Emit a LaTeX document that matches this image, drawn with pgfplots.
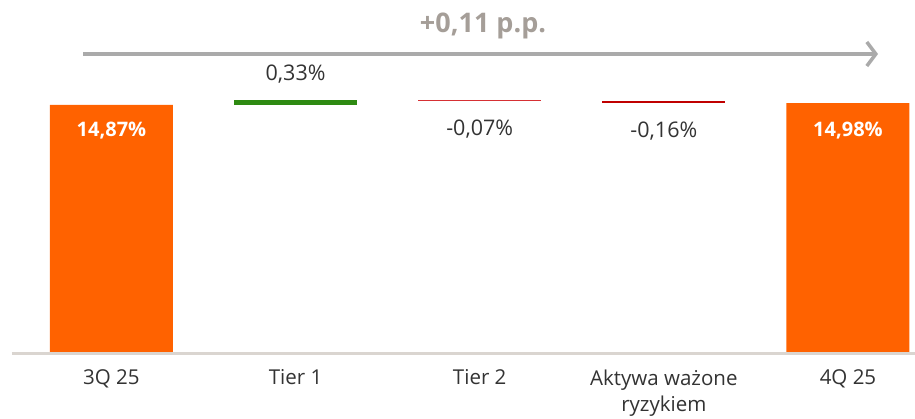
\documentclass[border=0pt]{standalone}
\usepackage{pgfplots}
\pgfplotsset{compat=1.18}
\usepackage{fontspec}
\setmainfont{Open Sans}
\usetikzlibrary{arrows.meta}
\definecolor{ingorange}{RGB}{255,98,0}
\definecolor{ingreen}{RGB}{46,138,18}
\definecolor{inred}{RGB}{214,48,52}
\definecolor{indarkred}{RGB}{192,0,0}
\definecolor{txt}{RGB}{51,51,51}
\definecolor{titlegray}{RGB}{165,158,152}
\definecolor{arrowgray}{RGB}{170,170,170}
\definecolor{basegray}{RGB}{218,213,208}
\begin{document}
\begin{tikzpicture}
\useasboundingbox (-12pt,-66pt) rectangle (903pt,352pt);
\begin{axis}[
  at={(0,0)}, anchor=south west,
  scale only axis, width=903pt, height=352pt,
  xmin=-0.54, xmax=4.364, ymin=0, ymax=21.19,
  ybar stacked, bar width=0.668,
  axis line style={draw=none},
  major tick length=0pt,
  ytick=\empty,
  xtick={0,1,2,3,4},
  xticklabels={3Q 25, Tier 1, Tier 2, {Aktywa ważone\\ryzykiem}, 4Q 25},
  xticklabel style={align=center, font=\fontsize{20.5}{26}\selectfont, text=txt, anchor=north, yshift=-14pt},
  clip=false,
]
\addplot[draw=none, fill=none] coordinates {(0,0) (1,14.87) (2,15.13) (3,14.97) (4,0)};
\addplot[draw=none, fill=ingorange] coordinates {(0,14.87) (1,0) (2,0) (3,0) (4,14.98)};
\addplot[draw=none, fill=ingreen] coordinates {(0,0) (1,0.33) (2,0) (3,0) (4,0)};
\addplot[draw=none, fill=inred] coordinates {(0,0) (1,0) (2,0.07) (3,0) (4,0)};
\addplot[draw=none, fill=indarkred] coordinates {(0,0) (1,0) (2,0) (3,0.16) (4,0)};
\coordinate (l0) at (axis cs:0,14.87);
\coordinate (l4) at (axis cs:4,14.98);
\coordinate (l1) at (axis cs:1,15.20);
\coordinate (l2) at (axis cs:2,15.13);
\coordinate (l3) at (axis cs:3,14.97);
\end{axis}
\node[text=white, font=\fontsize{20}{24}\selectfont\bfseries, yshift=-26pt] at (l0) {14,87\%};
\node[text=white, font=\fontsize{20}{24}\selectfont\bfseries, yshift=-27pt] at (l4) {14,98\%};
\node[text=txt, font=\fontsize{21.5}{24}\selectfont, yshift=25pt] at (l1) {0,33\%};
\node[text=txt, font=\fontsize{21.5}{24}\selectfont, yshift=-28pt] at (l2) {-0,07\%};
\node[text=txt, font=\fontsize{21.5}{24}\selectfont, yshift=-28pt] at (l3) {-0,16\%};
\draw[basegray, line width=3pt] (0pt,-1.5pt) -- (903pt,-1.5pt);
\draw[arrowgray, line width=3.5pt, -{Straight Barb[length=9pt,width=24pt]}] (71pt,298pt) -- (866pt,298pt);
\node[text=titlegray, font=\fontsize{27}{30}\selectfont\bfseries] at (471pt,326pt) {+0,11 p.p.};
\end{tikzpicture}
\end{document}
